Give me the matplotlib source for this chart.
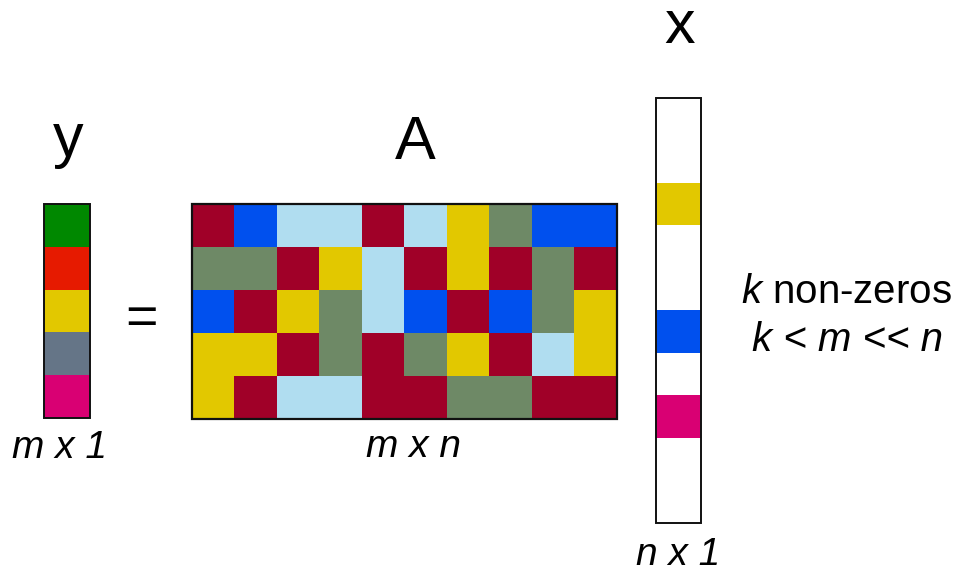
import numpy as np
import matplotlib
matplotlib.use('Agg')
import matplotlib.pyplot as plt
from matplotlib.colors import ListedColormap

plt.rcParams['font.family'] = ['Liberation Sans', 'DejaVu Sans']
plt.rcParams['mathtext.fontset'] = 'custom'
plt.rcParams['mathtext.rm'] = 'Liberation Sans'
plt.rcParams['mathtext.it'] = 'Liberation Sans:italic'

# --------------------------
# Data
# --------------------------
# palette for A and x
palette_codes = ['W', 'R', 'B', 'L', 'Y', 'G', 'M']
palette_colors = ['#FFFFFF', '#A00028', '#0050EE', '#B0DDF0', '#E2C800', '#6E8966', '#D90073']

# matrix A (m x n) as colour codes
A_rows = [
    ['R', 'B', 'L', 'L', 'R', 'L', 'Y', 'G', 'B', 'B'],
    ['G', 'G', 'R', 'Y', 'L', 'R', 'Y', 'R', 'G', 'R'],
    ['B', 'R', 'Y', 'G', 'L', 'B', 'R', 'B', 'G', 'Y'],
    ['Y', 'Y', 'R', 'G', 'R', 'G', 'Y', 'R', 'L', 'Y'],
    ['Y', 'R', 'L', 'L', 'R', 'R', 'G', 'G', 'R', 'R'],
]

# sparse vector x (n x 1), W = zero
x_vector = ['W', 'W', 'Y', 'W', 'W', 'B', 'W', 'M', 'W', 'W']

# measurement vector y (m x 1)
y_colors = ['#008800', '#E61A00', '#E2C800', '#657587', '#D90073']

# --------------------------
# Figure
# --------------------------
fig = plt.figure(figsize=(9.6, 5.67), dpi=100)
ax = fig.add_axes([0, 0, 1, 1])
ax.axis('off')

cmap = ListedColormap(palette_colors)
vmax = len(palette_codes) - 1
A_idx = np.array([[palette_codes.index(c) for c in row] for row in A_rows])
x_idx = np.array([[palette_codes.index(c)] for c in x_vector])
y_idx = np.arange(len(y_colors)).reshape(-1, 1)

# matrix A
ax.imshow(A_idx, cmap=cmap, vmin=0, vmax=vmax, extent=(192, 617, 419, 204),
          interpolation='nearest', aspect='auto')
ax.add_patch(plt.Rectangle((192, 204), 425, 215, fill=False, lw=1.6, ec='#111111'))

# vector y
ax.imshow(y_idx, cmap=ListedColormap(y_colors), extent=(44, 90, 418, 204),
          interpolation='nearest', aspect='auto')
ax.add_patch(plt.Rectangle((44, 204), 46, 214, fill=False, lw=1.4, ec='#111111'))

# vector x
ax.imshow(x_idx, cmap=cmap, vmin=0, vmax=vmax, extent=(656, 701, 523, 98),
          interpolation='nearest', aspect='auto')
ax.add_patch(plt.Rectangle((656, 98), 45, 425, fill=False, lw=1.4, ec='#111111'))

ax.set_xlim(0, 960)
ax.set_ylim(567, 0)

# labels
big = 44
small = 28
ax.text(68, 156, 'y', fontsize=big, ha='center', va='baseline')
ax.text(415, 159, 'A', fontsize=big, ha='center', va='baseline')
ax.text(680, 43, 'x', fontsize=big, ha='center', va='baseline')
ax.text(141, 334, '=', fontsize=40, ha='center', va='baseline')

ax.text(60, 458, 'm x 1', fontsize=small, style='italic', ha='center', va='baseline')
ax.text(414, 457, 'm x n', fontsize=small, style='italic', ha='center', va='baseline')
ax.text(678, 565, 'n x 1', fontsize=small, style='italic', ha='center', va='baseline')

ax.text(846, 303, '$k$ non-zeros', fontsize=29, ha='center', va='baseline')
ax.text(848, 351, 'k < m << n', fontsize=29, style='italic', ha='center', va='baseline')

plt.savefig('out.png', dpi=100)
